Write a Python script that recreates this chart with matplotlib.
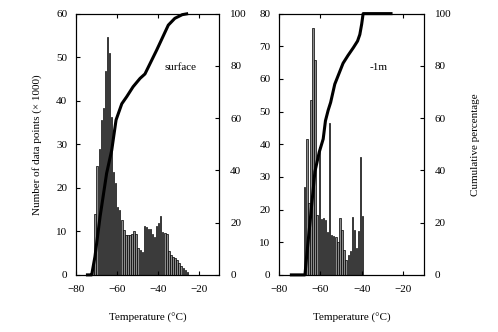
import numpy as np
import matplotlib
matplotlib.use("Agg")
import matplotlib.pyplot as plt

plt.rcParams["font.family"] = ["Liberation Serif", "DejaVu Serif"]
plt.rcParams["font.size"] = 8

# surface histogram, 1 degC bins (x1000 points)
surf_bins = np.arange(-73, -25)
surf_counts = [0.5, 2.3, 14, 25, 29, 35.6, 38.3, 46.8, 54.6, 51, 36.3, 23.7,
               21, 15.7, 14.8, 12.5, 10.3, 9.2, 9.2, 9.2, 9.5, 10, 9.4, 6.2,
               5.7, 5.2, 11.2, 11, 10.5, 10.5, 9.5, 8.8, 11.2, 11.9, 13.6, 9.9,
               9.7, 9.5, 5.4, 4.6, 4.0, 3.8, 3.5, 2.7, 2.1, 1.5, 1.1, 0.7]
surf_cum_t = [-75, -72.2, -70.6, -68.1, -64.9, -62.4, -60.3, -57.5, -55.1, -52,
              -48.6, -46.2, -40.5, -34.8, -31.6, -28, -25.1]
surf_cum_p = [0, 0, 7, 22.3, 38.9, 47.8, 59.3, 65.5, 68.2, 72, 75.2, 76.9, 86,
              95.6, 98.2, 99.6, 100]

# -1m histogram
deep_bins = np.arange(-68, -39)
deep_counts = [27, 41.5, 22, 53.5, 75.7, 65.7, 18.3, 39.2, 17.1, 17.3, 16.9,
               13.2, 46.4, 12.2, 11.8, 11.7, 10, 17.3, 13.8, 7.6, 4.6, 6.1, 7.4,
               17.8, 13.8, 8.2, 13.3, 36.2, 18]
deep_cum_t = [-74.7, -67.4, -66.6, -65, -62.6, -60.5, -58.6, -57.5, -56.2, -55,
              -53, -51, -49, -46.6, -44, -42, -40.9, -40, -39.3, -25.1]
deep_cum_p = [0, 0, 7, 19.8, 39.5, 47, 52, 59, 63, 66, 73, 77, 81, 84, 87,
              89.5, 92, 96, 100, 100]

fig = plt.figure(figsize=(4.98, 3.32), dpi=100)
ax1 = fig.add_axes([0.152, 0.172, 0.288, 0.787])
ax2 = fig.add_axes([0.560, 0.172, 0.291, 0.787])


def draw_panel(ax, bins, counts, cum_t, cum_p, ymax, label, lx, ly):
    ax.bar(bins + 0.5, counts, width=0.7, color="#8a8a8a",
           edgecolor="black", linewidth=0.5)
    ax.set_xlim(-80, -10)
    ax.set_ylim(0, ymax)
    ax.set_xticks([-80, -60, -40, -20])
    ax.set_yticks(np.arange(0, ymax + 1, 10))
    ax.tick_params(direction="in", length=3, top=True, right=False, width=0.8)
    ax.set_xlabel("Temperature (°C)", labelpad=14)
    ax.text(lx, ly, label, ha="center", va="center")
    axr = ax.twinx()
    axr.plot(cum_t, cum_p, color="black", linewidth=2.2, clip_on=False,
             solid_capstyle="butt")
    axr.set_ylim(0, 100)
    axr.set_yticks([0, 20, 40, 60, 80, 100])
    axr.tick_params(direction="in", length=3, width=0.8, pad=8)
    ax.tick_params(axis="y", pad=6)
    ax.tick_params(axis="x", pad=7)
    return axr


draw_panel(ax1, surf_bins, surf_counts, surf_cum_t, surf_cum_p, 60,
           "surface", -29, 47.7)
axr2 = draw_panel(ax2, deep_bins, deep_counts, deep_cum_t, deep_cum_p, 80,
                  "-1m", -32, 63.6)
ax1.set_ylabel("Number of data points (× 1000)", labelpad=10)
axr2.set_ylabel("Cumulative percentage", labelpad=14)

fig.savefig("out.png", dpi=100)
